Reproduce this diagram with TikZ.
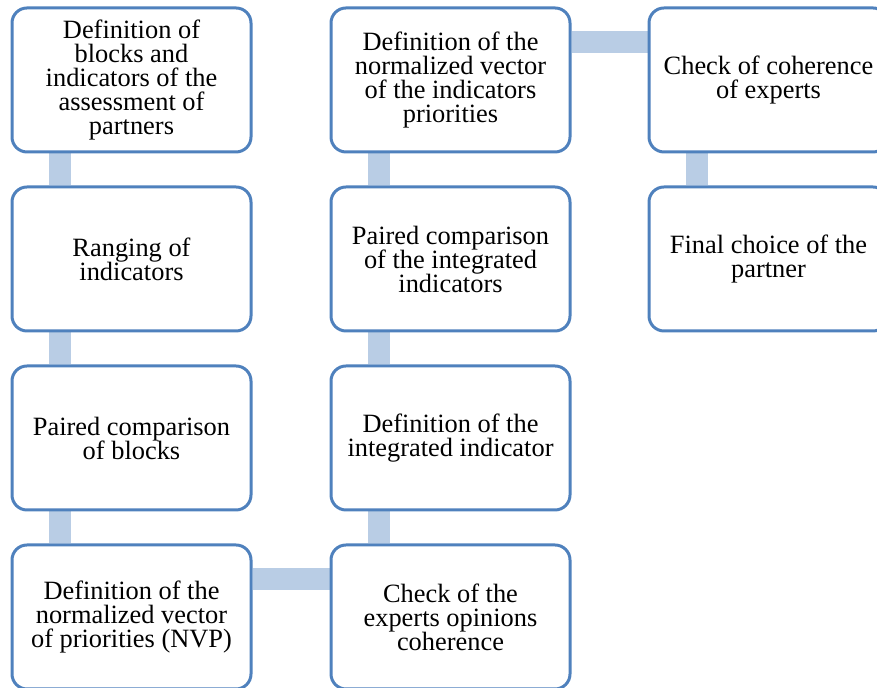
\documentclass[tikz,border=0pt]{standalone}
\usepackage{fontspec}
\setmainfont{Liberation Serif}
\usetikzlibrary{backgrounds}
\definecolor{boxline}{RGB}{79,129,189}
\definecolor{linkfill}{RGB}{185,205,229}
\newcommand{\boxfont}{\fontsize{13.2}{12}\selectfont\lineskiplimit=-20pt\relax}
\begin{document}
\begin{tikzpicture}[x=1pt,y=1pt,
  box/.style={draw=boxline, line width=1.5pt, fill=white, rounded corners=7.5pt,
    minimum width=119.5pt, minimum height=72pt, inner sep=1pt, align=center,
    font=\boxfont},
  link/.style={draw=linkfill, line width=11pt}]
\useasboundingbox (0,0) rectangle (438.5,344);
\node[box] (st1) at (65.75,304){Definition of\\blocks and\\indicators of the\\assessment of\\partners};
\node[box] (st2) at (65.75,214.5){Ranging of\\indicators};
\node[box] (st3) at (65.75,125){Paired comparison\\of blocks};
\node[box] (st4) at (65.75,35.5){Definition of the\\normalized vector\\of priorities (NVP)};
\node[box] (st5) at (225.25,35.5){Check of the\\experts opinions\\coherence};
\node[box] (st6) at (225.25,125){Definition of the\\integrated indicator};
\node[box] (st7) at (225.25,214.5){Paired comparison\\of the integrated\\indicators};
\node[box] (st8) at (225.25,304){Definition of the\\normalized vector\\of the indicators\\priorities};
\node[box] (st9) at (384.25,304){Check of coherence\\of experts};
\node[box] (st10) at (384.25,214.5){Final choice of the\\partner};
\begin{scope}[on background layer]
\draw[link]([xshift=24.5pt]st1.south west) -- ([xshift=24.5pt]st2.north west);
\draw[link]([xshift=24.5pt]st2.south west) -- ([xshift=24.5pt]st3.north west);
\draw[link]([xshift=24.5pt]st3.south west) -- ([xshift=24.5pt]st4.north west);
\draw[link]([yshift=-18pt]st4.north east) -- ([yshift=-18pt]st5.north west);
\draw[link]([xshift=24.5pt]st5.north west) -- ([xshift=24.5pt]st6.south west);
\draw[link]([xshift=24.5pt]st6.north west) -- ([xshift=24.5pt]st7.south west);
\draw[link]([xshift=24.5pt]st7.north west) -- ([xshift=24.5pt]st8.south west);
\draw[link]([yshift=-18pt]st8.north east) -- ([yshift=-18pt]st9.north west);
\draw[link]([xshift=24.5pt]st9.south west) -- ([xshift=24.5pt]st10.north west);
\end{scope}
\end{tikzpicture}
\end{document}
